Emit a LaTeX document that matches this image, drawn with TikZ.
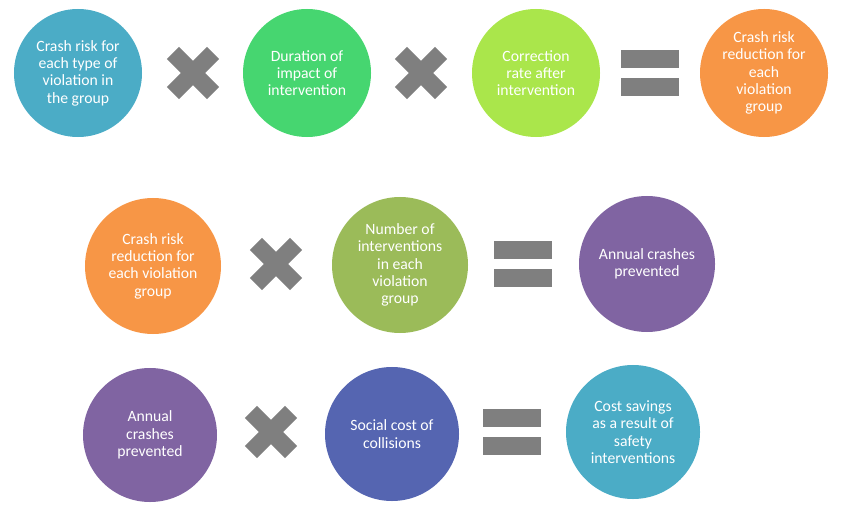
\documentclass[tikz,border=0pt]{standalone}
\usepackage{fontspec}
\setmainfont{Carlito}
\definecolor{aquab}{HTML}{4BACC6}
\definecolor{greenb}{HTML}{46D670}
\definecolor{limeb}{HTML}{AAE64B}
\definecolor{orangeb}{HTML}{F79646}
\definecolor{oliveb}{HTML}{9BBB59}
\definecolor{purpleb}{HTML}{8064A2}
\definecolor{blueb}{HTML}{5565B1}
\definecolor{opgray}{HTML}{7F7F7F}

\begin{document}
\begin{tikzpicture}[x=0.03cm, y=-0.03cm,
    bubble/.style={circle, fill=#1, text=white, align=center, inner sep=0pt, font=\fontsize{13.4}{14.8}\selectfont},
    crossbar/.style={rectangle, fill=opgray, minimum width=1.7cm, minimum height=0.51cm, inner sep=0pt},
    eqbar/.style={rectangle, fill=opgray, minimum width=1.74cm, minimum height=0.56cm, inner sep=0pt}]

                    \useasboundingbox (0,0) rectangle (843,511);

                    % first row
                    \node[bubble=aquab, minimum size=3.84cm] (risk) at (78,73) {Crash risk for\\each type of\\violation in\\the group};
                    \node[bubble=greenb, minimum size=3.84cm] (dur) at (307,73) {Duration of\\impact of\\intervention};
                    \node[bubble=limeb, minimum size=3.84cm] (corr) at (536,73) {Correction\\rate after\\intervention};
                    \node[bubble=orangeb, minimum size=3.84cm] (red) at (764,73) {Crash risk\\reduction for\\each\\violation\\group};
                    \node[crossbar, rotate=45] (xa) at (193,73) {}; \node[crossbar, rotate=-45] (xb) at (193,73) {};
                    \node[crossbar, rotate=45] (xc) at (421,73) {}; \node[crossbar, rotate=-45] (xd) at (421,73) {};
                    \node[eqbar] (ea) at (650,59) {}; \node[eqbar] (eb) at (650,87) {};

                    % second row
                    \node[bubble=orangeb, minimum size=4.08cm] (red2) at (153,266) {Crash risk\\reduction for\\each violation\\group};
                    \node[bubble=oliveb, minimum size=4.08cm] (num) at (400,265) {Number of\\interventions\\in each\\violation\\group};
                    \node[bubble=purpleb, minimum size=4.08cm] (ann) at (647,264) {Annual crashes\\prevented};
                    \node[crossbar, rotate=45] (xe) at (276,264) {}; \node[crossbar, rotate=-45] (xf) at (276,264) {};
                    \node[eqbar] (ec) at (523,250) {}; \node[eqbar] (ed) at (523,278) {};

                    % third row
                    \node[bubble=purpleb, minimum size=4.02cm] (ann2) at (150,435) {Annual\\crashes\\prevented};
                    \node[bubble=blueb, minimum size=4.02cm] (cost) at (392,434) {Social cost of\\collisions};
                    \node[bubble=aquab, minimum size=4.02cm] (sav) at (633,432) {Cost savings\\as a result of\\safety\\interventions};
                    \node[crossbar, rotate=45] (xg) at (271,432) {}; \node[crossbar, rotate=-45] (xh) at (271,432) {};
                    \node[eqbar] (ee) at (512,418) {}; \node[eqbar] (ef) at (512,446) {};

                \end{tikzpicture}
\end{document}
